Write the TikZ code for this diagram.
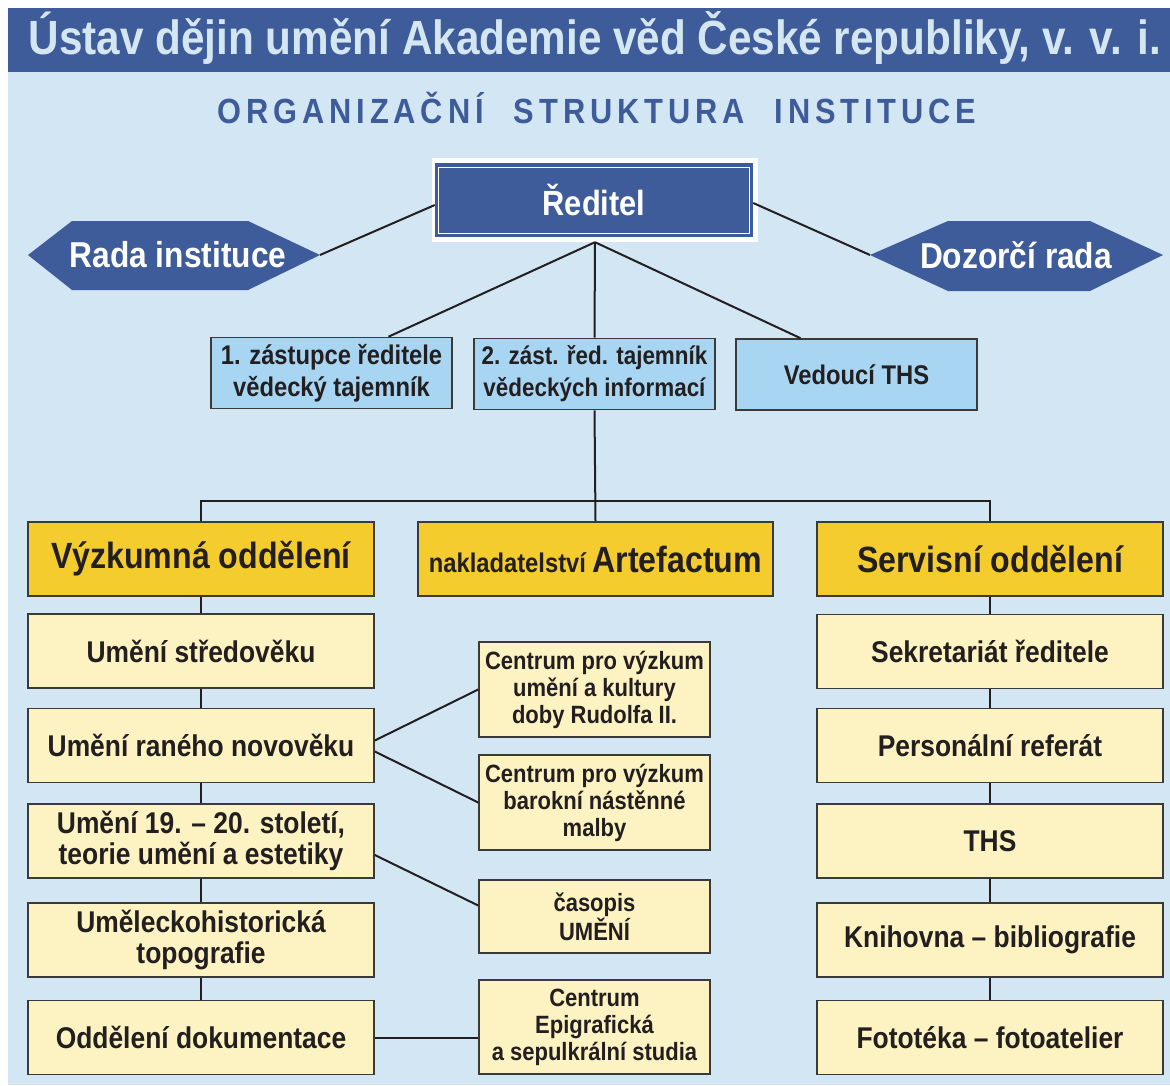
\documentclass[tikz,border=0pt]{standalone}
\usepackage{fontspec}
\setmainfont{Liberation Sans}[FakeStretch=0.88]
\usetikzlibrary{calc}
\definecolor{bgblue}{HTML}{D3E6F4}
\definecolor{barblue}{HTML}{3E5C99}
\definecolor{titletxt}{HTML}{D5E6F3}
\definecolor{lblue}{HTML}{A8D5F1}
\definecolor{gold}{HTML}{F4CC2E}
\definecolor{cream}{HTML}{FDF2C1}
\definecolor{edge}{HTML}{3A3A3A}
\definecolor{ink}{HTML}{231F20}
\tikzset{
  box/.style={draw=edge, line width=1.6pt, inner sep=0pt, align=center, text=ink},
  lbox/.style={box, fill=lblue, minimum width=241pt, minimum height=71pt, font=\bfseries\fontsize{27}{32}\selectfont},
  goldbox/.style={box, fill=gold, minimum height=74pt, font=\bfseries\fontsize{36.5}{38}\selectfont},
  colbox/.style={box, fill=cream, minimum width=346pt, minimum height=74pt, font=\bfseries\fontsize{30}{31}\selectfont},
  midbox/.style={box, fill=cream, minimum width=231pt, font=\bfseries\fontsize{25}{27}\selectfont},
  conn/.style={draw=ink, line width=2pt},
  hexlabel/.style={text=white, font=\bfseries\fontsize{36}{36}\selectfont, inner sep=0pt}
}
\begin{document}
\begin{tikzpicture}[x=1pt,y=-1pt]
\useasboundingbox (0,0) rectangle (1170,1085);
\fill[white] (0,0) rectangle (1170,1085);
\fill[bgblue] (8,8) rectangle (1170,1085);
\fill[barblue] (8,8) rectangle (1170,72);
\node[anchor=base, text=titletxt, inner sep=0pt, font=\bfseries\fontsize{48}{48}\selectfont] (title) at (595,54) {Ústav dějin umění Akademie věd České republiky, v. v. i.};
\node[anchor=base, text=barblue, inner sep=0pt, font=\bfseries\fontsize{35}{35}\selectfont\addfontfeature{LetterSpace=14}] (subtitle) at (597,123) {ORGANIZAČNÍ\hspace{30pt}STRUKTURA\hspace{30pt}INSTITUCE};

% director
\node[fill=white, minimum width=326pt, minimum height=84pt, inner sep=0pt] (redframe) at (595,200) {};
\node[fill=barblue, minimum width=318pt, minimum height=74pt, inner sep=0pt, text=white, font=\bfseries\fontsize{35}{35}\selectfont] (red) at (594,200) {Ředitel};
\draw[white, line width=1.3pt] ($(red.south west)+(4,-4)$) rectangle ($(red.north east)+(-4,5)$);

% councils
\fill[barblue] (28,255) -- (72,221) -- (248,221) -- (320,255) -- (248,290) -- (72,290) -- cycle;
\coordinate (radatip) at (320,255);
\node[hexlabel] (rada) at (178,255) {Rada instituce};
\fill[barblue] (870,255) -- (948,221) -- (1090,221) -- (1163,255) -- (1090,291) -- (948,291) -- cycle;
\coordinate (dozortip) at (870,255);
\node[hexlabel] (dozor) at (1016,255) {Dozorčí rada};
\draw[conn] ($(red.west)+(0,5)$) -- (radatip);
\draw[conn] ($(red.east)+(0,3)$) -- (dozortip);

% deputies
\node[lbox] (z1) at (331.5,373) {1. zástupce ředitele\\vědecký tajemník};
\node[lbox, font=\bfseries\fontsize{25.5}{32}\selectfont] (z2) at (594.5,374) {2. zást. řed. tajemník\\vědeckých informací};
\node[lbox] (z3) at (856.5,374.5) {Vedoucí THS};
\draw[conn] (redframe.south) -- ($(z1.north)+(57,0)$);
\draw[conn] (redframe.south) -- (z2.north);
\draw[conn] (redframe.south) -- ($(z3.north)+(-56,0)$);

% main row
\node[goldbox, minimum width=346pt] (vyz) at (201,559) {Výzkumná oddělení};
\node[goldbox, minimum width=355pt] (nakl) at (595.5,559) {{\fontsize{27}{30}\selectfont nakladatelství }Artefactum};
\node[goldbox, minimum width=346pt] (serv) at (990,559) {Servisní oddělení};
\coordinate (bar) at (594.5,501);
\draw[conn] (z2.south) -- (nakl.north);
\draw[conn] (vyz.north) |- (bar) -| (serv.north);

% research departments
\node[colbox] (c1) at (201,651) {Umění středověku};
\node[colbox] (c2) at (201,745.5) {Umění raného novověku};
\node[colbox] (c3) at (201,841) {Umění 19. – 20. století,\\teorie umění a estetiky};
\node[colbox] (c4) at (201,940) {Uměleckohistorická\\topografie};
\node[colbox] (c5) at (201,1037.5) {Oddělení dokumentace};
\draw[conn] (vyz.south) -- (c1.north);
\draw[conn] (c1.south) -- (c2.north);
\draw[conn] (c2.south) -- (c3.north);
\draw[conn] (c3.south) -- (c4.north);
\draw[conn] (c4.south) -- (c5.north);

% centres
\node[midbox, minimum height=95pt] (rud) at (594.5,689.5) {Centrum pro výzkum\\umění a kultury\\doby Rudolfa II.};
\node[midbox, minimum height=95pt] (bar2) at (594.5,802.5) {Centrum pro výzkum\\barokní nástěnné\\malby};
\node[midbox, minimum height=73pt] (cas) at (594.5,916.5) {časopis\\UMĚNÍ};
\node[midbox, minimum height=94pt] (epi) at (594.5,1027) {Centrum\\Epigrafická\\a sepulkrální studia};
\draw[conn] ($(c2.east)+(0,-5)$) -- (rud.west);
\draw[conn] ($(c2.east)+(0,6)$) -- (bar2.west);
\draw[conn] ($(c3.east)+(0,14)$) -- ($(cas.west)+(0,-11)$);
\draw[conn] (c5.east) -- (c5.east -| epi.west);

% service departments
\node[colbox] (s1) at (990,651.5) {Sekretariát ředitele};
\node[colbox] (s2) at (990,745.5) {Personální referát};
\node[colbox] (s3) at (990,841) {THS};
\node[colbox] (s4) at (990,940) {Knihovna – bibliografie};
\node[colbox] (s5) at (990,1037.5) {Fototéka – fotoatelier};
\draw[conn] (serv.south) -- (s1.north);
\draw[conn] (s1.south) -- (s2.north);
\draw[conn] (s2.south) -- (s3.north);
\draw[conn] (s3.south) -- (s4.north);
\draw[conn] (s4.south) -- (s5.north);
\end{tikzpicture}
\end{document}
